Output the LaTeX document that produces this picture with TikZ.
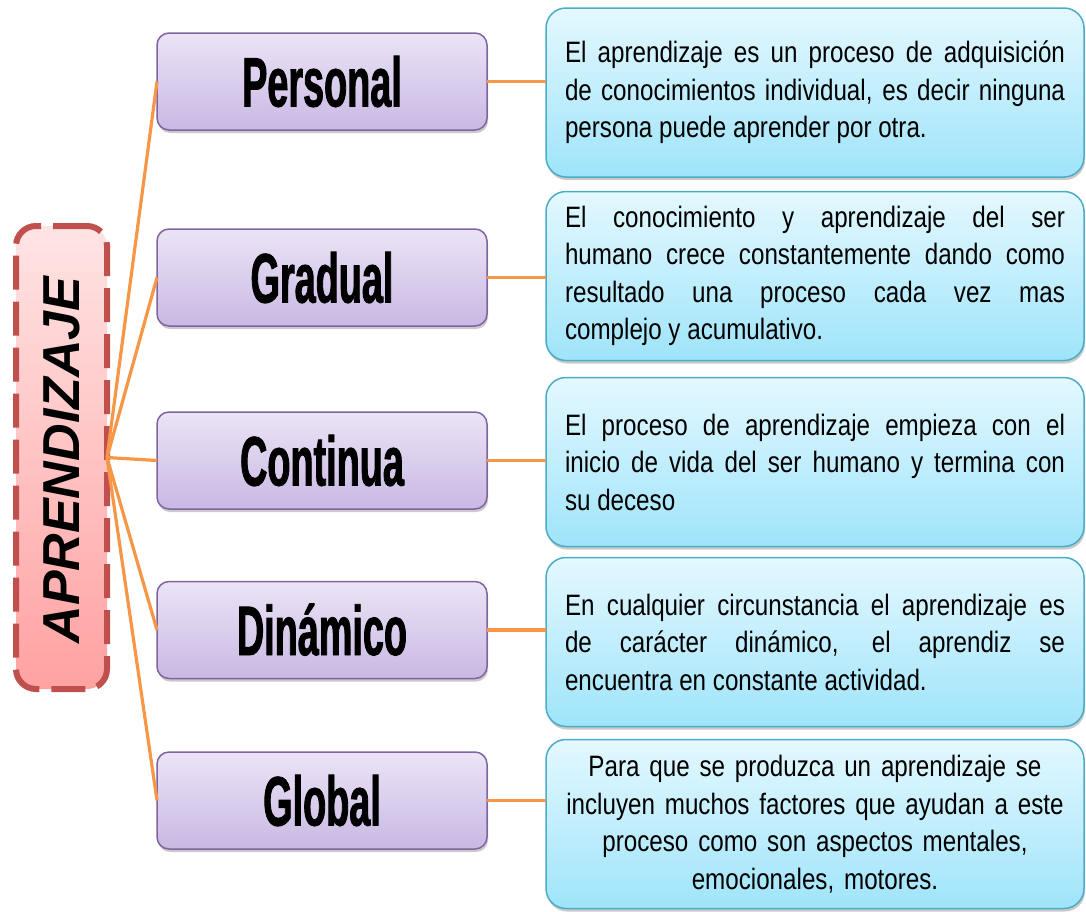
\documentclass[tikz,border=0pt]{standalone}
\usepackage{fontspec}
\setmainfont{Liberation Sans}
\newfontfamily\narrowfont[FakeStretch=0.82]{Liberation Sans}
\newfontfamily\headfont[FakeStretch=0.54,FakeBold=1.2]{Liberation Sans}
\usetikzlibrary{shadows}
\tolerance=10000
\hbadness=10000
\definecolor{connC}{HTML}{F79646}
\definecolor{redB}{HTML}{C0504D}
\definecolor{redT}{HTML}{FFE4E4}
\definecolor{redBot}{HTML}{FFA2A2}
\definecolor{purB}{HTML}{8064A2}
\definecolor{purT}{HTML}{EBE4F6}
\definecolor{purBot}{HTML}{C9B8E3}
\definecolor{bluB}{HTML}{4BACC6}
\definecolor{bluT}{HTML}{E4F8FF}
\definecolor{bluBot}{HTML}{9FE4FA}
\tikzset{
  mainbox/.style={rectangle, rounded corners=20pt, draw=redB, line width=6pt,
    dash pattern=on 34pt off 12pt, top color=redT, bottom color=redBot,
    minimum width=91pt, minimum height=463pt, inner sep=0pt, outer sep=0pt},
  maintext/.style={rotate=90, font=\bfseries\itshape\fontsize{52}{52}\selectfont, inner sep=0pt},
  purbox/.style={rectangle, rounded corners=12pt, draw=purB, line width=1.5pt,
    top color=purT, bottom color=purBot, minimum width=330pt, minimum height=97pt,
    inner sep=0pt, outer sep=0pt, text height=50pt, text depth=0pt,
    drop shadow={shadow xshift=1pt, shadow yshift=-3pt, opacity=0.35, fill=black!60},
    font=\headfont\bfseries\fontsize{70}{70}\selectfont},
  blubase/.style={rectangle, rounded corners=20pt, draw=bluB, line width=1.5pt,
    top color=bluT, bottom color=bluBot, minimum width=538pt, minimum height=169pt,
    inner sep=0pt, outer sep=0pt, text width=500pt,
    drop shadow={shadow xshift=1pt, shadow yshift=-3pt, opacity=0.35, fill=black!60},
    font=\narrowfont\fontsize{29.5}{37.5}\selectfont},
  blubox/.style={blubase, align=justify},
  bluboxc/.style={blubase, align=center},
  conn/.style={draw=connC, line width=3.2pt}
}
\begin{document}
\begin{tikzpicture}[x=1pt,y=1pt]
\useasboundingbox (0,0) rectangle (1086,-911);

% purple category boxes
\node[purbox] (per) at (322,-81.5) {Personal};
\node[purbox] (gra) at (322,-277.5) {Gradual};
\node[purbox] (con) at (322,-460.5) {Continua};
\node[purbox] (din) at (322,-630) {Dinámico};
\node[purbox] (glo) at (322,-800.5) {Global};

% blue description boxes
\node[blubox] (d1) at (815,-92.5) {El aprendizaje es un proceso de adquisición\linebreak de conocimientos individual, es decir ninguna\linebreak persona puede aprender por otra.};
\node[blubox] (d2) at (815,-276) {El conocimiento y aprendizaje del ser\linebreak humano crece constantemente dando como\linebreak resultado una proceso cada vez mas\linebreak complejo y acumulativo.};
\node[blubox] (d3) at (815,-462) {El proceso de aprendizaje empieza con el\linebreak inicio de vida del ser humano y termina con\linebreak su deceso};
\node[blubox] (d4) at (815,-642) {En cualquier circunstancia el aprendizaje es\linebreak de carácter dinámico, el aprendiz se\linebreak encuentra en constante actividad.};
\node[bluboxc] (d5) at (815,-824) {Para que se produzca un aprendizaje se\\ incluyen muchos factores que ayudan a este\\ proceso como son aspectos mentales,\\ emocionales, motores.};

% main box
\node[mainbox] (apr) at (61.5,-457.5) {};
\node[maintext] (aprt) at (62,-460) {APRENDIZAJE};

% connectors
\foreach \n in {per,gra,con,din,glo}{
  \draw[conn] (apr.east) -- (\n.west);
}
\draw[conn] (per.east) -- (per.east -| d1.west);
\draw[conn] (gra.east) -- (gra.east -| d2.west);
\draw[conn] (con.east) -- (con.east -| d3.west);
\draw[conn] (din.east) -- (din.east -| d4.west);
\draw[conn] (glo.east) -- (glo.east -| d5.west);
\end{tikzpicture}
\end{document}
